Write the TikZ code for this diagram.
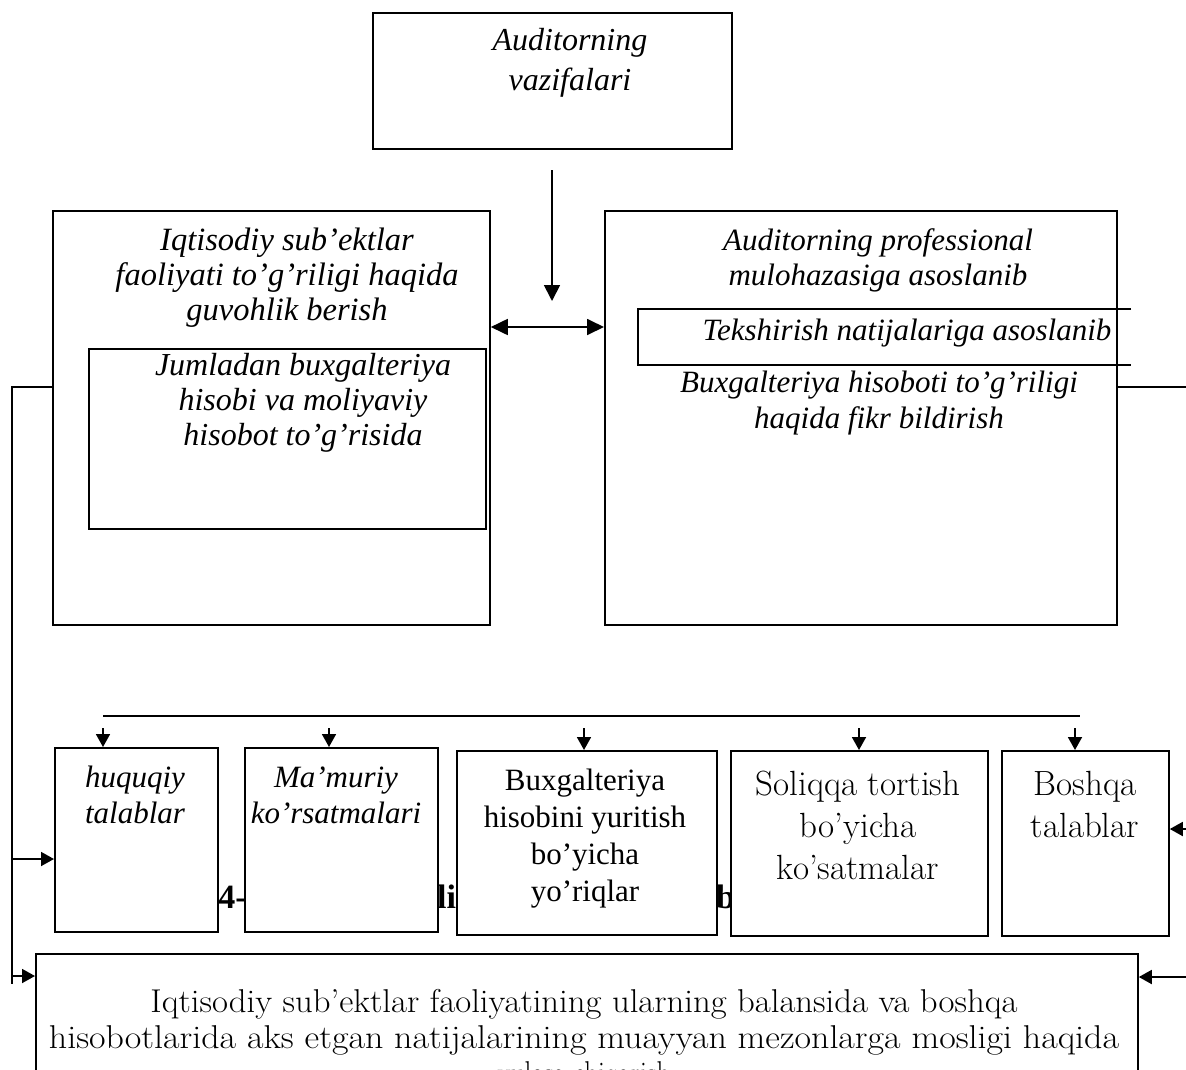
\documentclass[tikz,border=0pt]{standalone}
\usepackage{fontspec}
\usepackage{graphicx}
\newfontfamily\tms{Liberation Serif}
\usetikzlibrary{arrows.meta}
\tikzset{
  box/.style={draw, line width=1.8pt, fill=white, inner sep=0pt},
  con/.style={line width=1.8pt},
  tipbig/.style={-{Triangle[length=16pt,width=16pt]}},
  tipboth/.style={{Triangle[length=17pt,width=16pt]}-{Triangle[length=17pt,width=16pt]}},
  tipsmall/.style={-{Triangle[length=13pt,width=14pt]}},
  itx/.style={font=\tms\itshape\fontsize{31}{36}\selectfont, align=center, anchor=base, inner sep=0pt},
  rtx/.style={font=\tms\fontsize{31}{37}\selectfont, align=center, anchor=base, inner sep=0pt},
  ptx/.style={font=\fontsize{35}{42}\selectfont, align=center, anchor=base, inner sep=0pt},
  btx/.style={font=\tms\bfseries\fontsize{34}{40}\selectfont, inner sep=0pt},
}
\begin{document}
\begin{tikzpicture}[x=1pt,y=-1pt]
\useasboundingbox (0,0) rectangle (1186,1069);
\fill[white] (0,0) rectangle (1186,1069);

% top box
\node[box, anchor=north west, minimum width=359pt, minimum height=136pt] (topbox) at (372,12) {};
\node[itx, font=\tms\itshape\fontsize{32}{40}\selectfont] (ttop) at (570,90) {Auditorning\\vazifalari};

% left big box
\node[box, anchor=north west, minimum width=437pt, minimum height=414pt] (lbox) at (52,210) {};
\node[itx, font=\tms\itshape\fontsize{32.5}{35}\selectfont] (tl) at (287,320) {Iqtisodiy sub’ektlar\\faoliyati to’g’riligi haqida\\guvohlik berish};
\node[box, anchor=north west, minimum width=397pt, minimum height=180pt] (linner) at (88,348) {};
\node[itx, font=\tms\itshape\fontsize{32}{35}\selectfont] (tli) at (303,445) {Jumladan buxgalteriya\\hisobi va moliyaviy\\hisobot to’g’risida};

% right big box
\node[box, anchor=north west, minimum width=512pt, minimum height=414pt] (rbox) at (604,210) {};
\node[itx, font=\tms\itshape\fontsize{31}{35}\selectfont] (tr) at (878,285) {Auditorning professional\\mulohazasiga asoslanib};
\coordinate (ri1) at (1131,309);
\coordinate (ri2) at (638,309);
\coordinate (ri3) at (638,365);
\coordinate (ri4) at (1131,365);
\draw[con] (ri1) -- (ri2) -- (ri3) -- (ri4);
\node[itx] (tri) at (907,340) {Tekshirish natijalariga asoslanib};
\node[itx, font=\tms\itshape\fontsize{31}{36}\selectfont] (tr2) at (879,428) {Buxgalteriya hisoboti to’g’riligi\\haqida fikr bildirish};

% vertical arrow and double arrow
\coordinate (dtop) at (552,170);
\coordinate (dbot) at (552,301);
\draw[con, tipbig] (dtop) -- (dbot);
\coordinate (h327) at (0,327);
\draw[con, tipboth] (lbox.east |- h327) -- (rbox.west |- h327);

% hidden caption fragments
\node[btx, anchor=base east] (cap1) at (247,908) {4-};
\node[btx, anchor=base west] (cap2) at (437,908) {li};
\node[btx, anchor=base west] (cap3) at (716,908) {bo};

% row of boxes
\node[box, anchor=north west, minimum width=163pt, minimum height=184pt] (b1) at (54,747) {};
\node[box, anchor=north west, minimum width=193pt, minimum height=184pt] (b2) at (244,747) {};
\node[box, anchor=north west, minimum width=260pt, minimum height=184pt] (b3) at (456,750) {};
\node[box, anchor=north west, minimum width=257pt, minimum height=185pt] (b4) at (730,750) {};
\node[box, anchor=north west, minimum width=167pt, minimum height=185pt] (b5) at (1001,750) {};
\node[itx] (t1) at (135,823) {huquqiy\\talablar};
\node[itx] (t2) at (336,823) {Ma’muriy\\ko’rsatmalari};
\node[rtx] (t3) at (585,901) {Buxgalteriya\\hisobini yuritish\\bo’yicha\\yo’riqlar};
\node[ptx] (t4) at (858,879) {Soliqqa tortish\\bo’yicha\\ko’satmalar};
\node[ptx] (t5) at (1085,837) {Boshqa\\talablar};

% distribution line and short arrows
\coordinate (T1) at (103,716);
\coordinate (T2) at (1080,716);
\draw[con] (T1) -- (T2);
\coordinate (a1) at (103,728);
\coordinate (a2) at (329,728);
\coordinate (a3) at (584,728);
\coordinate (a4) at (859,728);
\coordinate (a5) at (1075,728);
\draw[con, tipsmall] (a1) -- (a1 |- b1.north);
\draw[con, tipsmall] (a2) -- (a2 |- b2.north);
\draw[con, tipsmall] (a3) -- (a3 |- b3.north);
\draw[con, tipsmall] (a4) -- (a4 |- b4.north);
\draw[con, tipsmall] (a5) -- (a5 |- b5.north);

% bottom box
\node[box, anchor=north west, minimum width=1102pt, minimum height=200pt] (bot) at (35,953) {};
\node[ptx, font=\fontsize{33}{36}\selectfont] (tb) at (584,1084) {\resizebox{867pt}{\height}{Iqtisodiy sub’ektlar faoliyatining ularning balansida va boshqa}\\\resizebox{1070pt}{\height}{hisobotlarida aks etgan natijalarining muayyan mezonlarga mosligi haqida}\\\scalebox{0.82}[1]{xulosa chiqarish}};

% left connector
\coordinate (h387) at (0,387);
\coordinate (L1) at (12,387);
\coordinate (L2) at (12,984);
\coordinate (L3) at (12,859);
\coordinate (L4) at (12,976);
\draw[con] (lbox.west |- h387) -- (L1) -- (L2);
\draw[con, tipsmall] (L3) -- (b1.west |- L3);
\draw[con, tipsmall] (L4) -- (bot.west |- L4);

% right connector
\coordinate (R1) at (1192,387);
\coordinate (R2) at (1192,977);
\coordinate (R3) at (1192,829);
\draw[con] (rbox.east |- R1) -- (R1) -- (R2);
\draw[con, tipsmall] (R3) -- (b5.east |- R3);
\draw[con, tipsmall] (R2) -- (bot.east |- R2);
\end{tikzpicture}
\end{document}
